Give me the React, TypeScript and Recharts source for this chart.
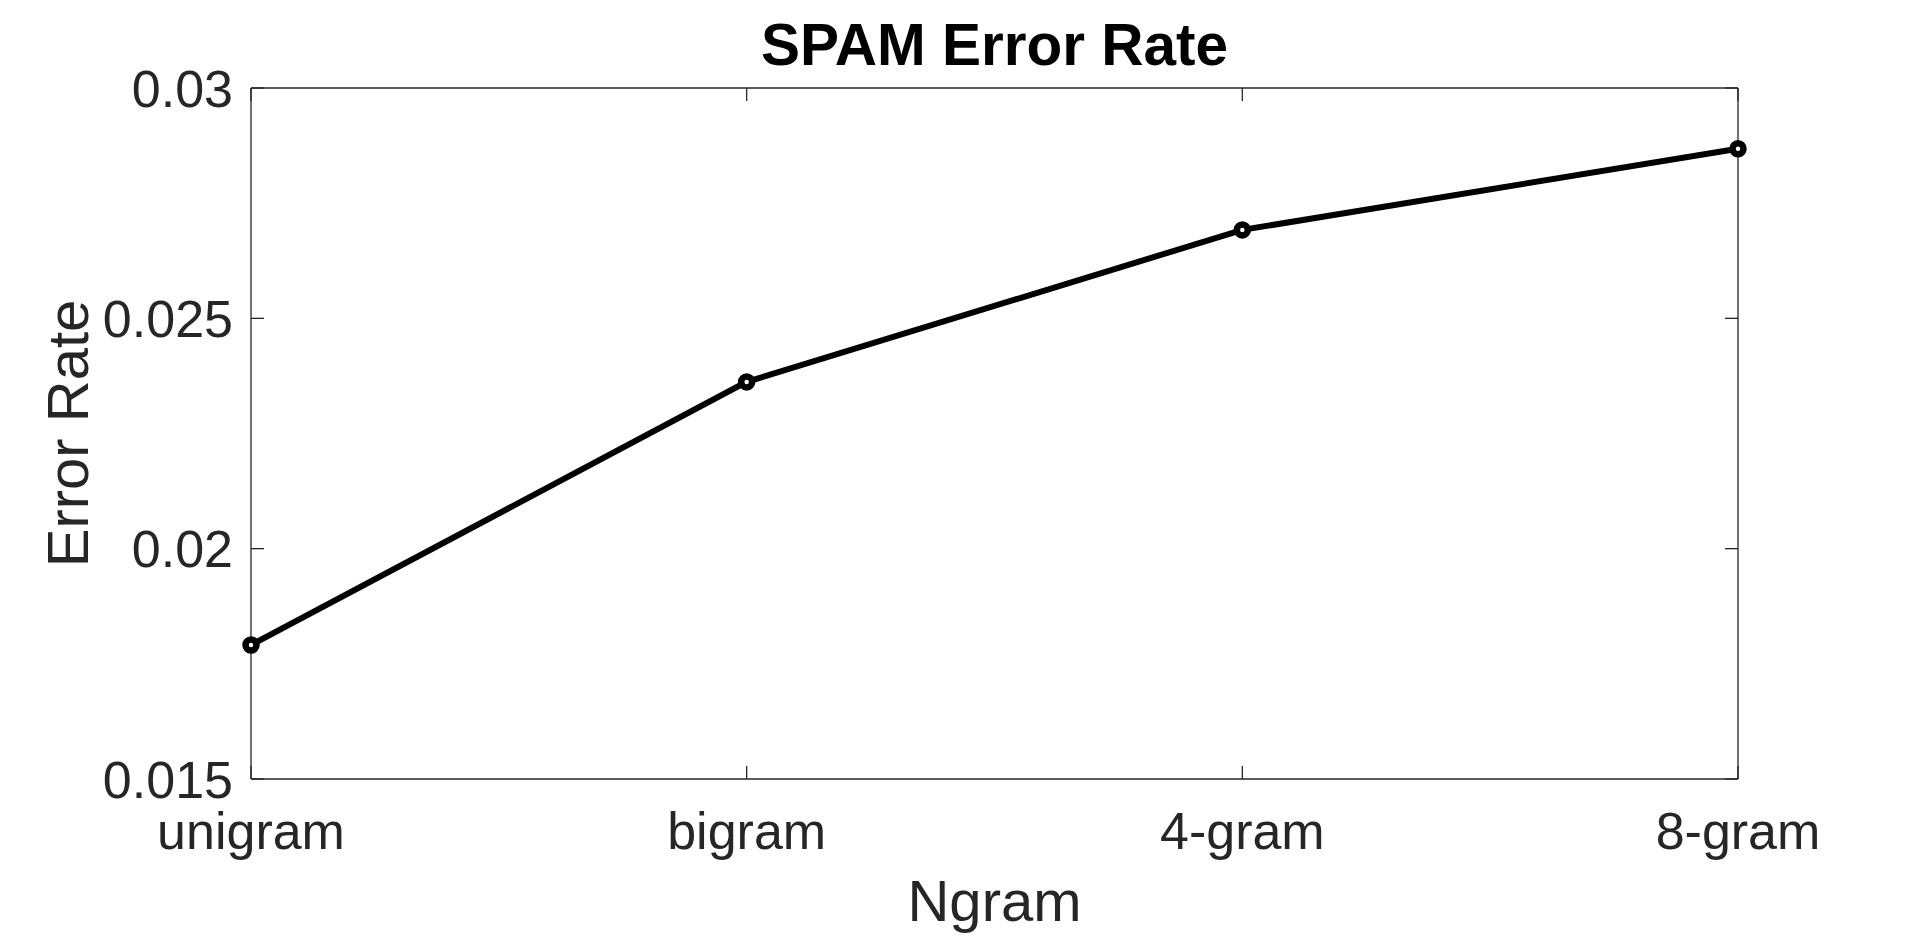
import { LineChart, Line, XAxis, YAxis, Label } from "recharts";

const categories = ["unigram", "bigram", "4-gram", "8-gram"];
const errorRates = [0.01791, 0.02362, 0.02692, 0.02868];
const yTicks = [0.015, 0.02, 0.025, 0.03];

const data = categories.map((name, i) => ({ name, rate: errorRates[i] }));

const FONT = "'Liberation Sans', Arial, Helvetica, sans-serif";
const AXIS = "#262626";
const TICK_LEN = 13;

// plot box edges (MATLAB-style axes with inward ticks)
const W = 1920;
const H = 936;
const LEFT = 251;
const RIGHT = 1738;
const TOP = 88;
const BOTTOM = 779;

const BottomTick = (props: any) => {
  const { payload } = props;
  const x = payload.coordinate;
  return (
    <g>
      <line x1={x} y1={BOTTOM} x2={x} y2={BOTTOM - TICK_LEN} stroke={AXIS} strokeWidth={1.3} />
      <text x={x} y={BOTTOM + 70} textAnchor="middle" fontSize={52} fontFamily={FONT} fill={AXIS}>
        {payload.value}
      </text>
    </g>
  );
};

const TopTick = (props: any) => {
  const x = props.payload.coordinate;
  return <line x1={x} y1={TOP} x2={x} y2={TOP + TICK_LEN} stroke={AXIS} strokeWidth={1.3} />;
};

const LeftTick = (props: any) => {
  const { payload } = props;
  const y = payload.coordinate;
  return (
    <g>
      <line x1={LEFT} y1={y} x2={LEFT + TICK_LEN} y2={y} stroke={AXIS} strokeWidth={1.3} />
      <text x={LEFT - 18} y={y} dy="0.36em" textAnchor="end" fontSize={52} fontFamily={FONT} fill={AXIS}>
        {String(payload.value)}
      </text>
    </g>
  );
};

const RightTick = (props: any) => {
  const y = props.payload.coordinate;
  return <line x1={RIGHT} y1={y} x2={RIGHT - TICK_LEN} y2={y} stroke={AXIS} strokeWidth={1.3} />;
};

export default function App() {
  return (
    <div style={{ position: "absolute", left: 0, top: 0, width: W, height: H, background: "#fff" }}>
      <LineChart width={W} height={H} data={data} margin={{ top: TOP - 1, right: W - RIGHT - 1, left: 0, bottom: 0 }}>
        <XAxis
          dataKey="name"
          scale="point"
          padding={{ left: 0, right: 0 }}
          height={H - BOTTOM}
          stroke={AXIS}
          strokeWidth={1.3}
          tickLine={false}
          tick={<BottomTick />}
          interval={0}
        >
          <Label
            content={(p: any) => {
              const vb = p.viewBox;
              return (
                <text x={vb.x + vb.width / 2} y={BOTTOM + 142} textAnchor="middle" fontSize={58} fontFamily={FONT} fill={AXIS}>
                  Ngram
                </text>
              );
            }}
          />
        </XAxis>
        <XAxis
          xAxisId="top"
          orientation="top"
          dataKey="name"
          scale="point"
          padding={{ left: 0, right: 0 }}
          height={1}
          stroke={AXIS}
          strokeWidth={1.3}
          tickLine={false}
          tick={<TopTick />}
          interval={0}
        >
          <Label
            content={(p: any) => {
              const vb = p.viewBox;
              return (
                <text x={vb.x + vb.width / 2} y={TOP - 23} textAnchor="middle" fontSize={58.5} fontWeight="bold" fontFamily={FONT} fill="#000">
                  SPAM Error Rate
                </text>
              );
            }}
          />
        </XAxis>
        <YAxis
          domain={[0.015, 0.03]}
          ticks={yTicks}
          allowDataOverflow
          width={LEFT}
          stroke={AXIS}
          strokeWidth={1.3}
          tickLine={false}
          tick={<LeftTick />}
          interval={0}
        >
          <Label
            content={(p: any) => {
              const vb = p.viewBox;
              const cy = vb.y + vb.height / 2;
              return (
                <text x={88} y={cy} transform={`rotate(-90 88 ${cy})`} textAnchor="middle" fontSize={58} fontFamily={FONT} fill={AXIS}>
                  Error Rate
                </text>
              );
            }}
          />
        </YAxis>
        <YAxis
          yAxisId="right"
          orientation="right"
          domain={[0.015, 0.03]}
          ticks={yTicks}
          allowDataOverflow
          width={1}
          stroke={AXIS}
          strokeWidth={1.3}
          tickLine={false}
          tick={<RightTick />}
          interval={0}
        />
        {/* invisible twin so the top and right axes of the box have a series */}
        <Line
          xAxisId="top"
          yAxisId="right"
          dataKey="rate"
          stroke="none"
          dot={false}
          activeDot={false}
          legendType="none"
          isAnimationActive={false}
        />
        <Line
          dataKey="rate"
          type="linear"
          stroke="#000"
          strokeWidth={6}
          dot={{ r: 5.5, stroke: "#000", strokeWidth: 6.5, fill: "#fff" }}
          activeDot={false}
          isAnimationActive={false}
        />
      </LineChart>
    </div>
  );
}
